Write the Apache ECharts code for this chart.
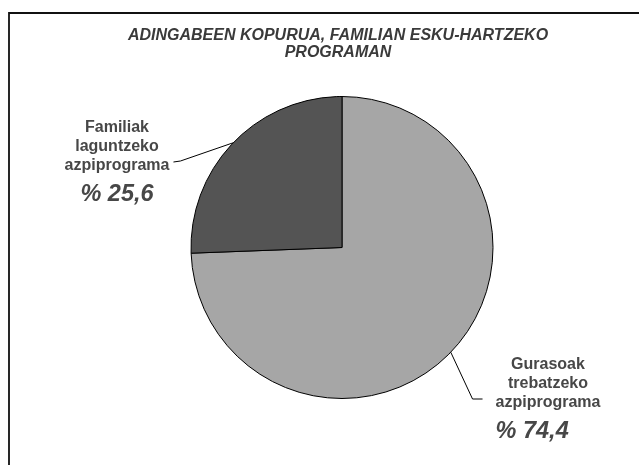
<!DOCTYPE html>
<html>
<head>
<meta charset="utf-8">
<script src="https://cdn.jsdelivr.net/npm/echarts@6/dist/echarts.min.js"></script>
<style>
  html, body { margin: 0; padding: 0; background: #fff; }
  #chart { width: 639px; height: 465px; }
</style>
</head>
<body>
<div id="chart"></div>
<script>
// programme names (label lines) and their share in percent
const categories = [
  'Gurasoak\ntrebatzeko\nazpiprograma',
  'Familiak\nlaguntzeko\nazpiprograma'
]
const percents = [74.4, 25.6]
const sliceColors = ['#a6a6a6', '#545454']
const chartTitle = 'ADINGABEEN KOPURUA, FAMILIAN ESKU-HARTZEKO\nPROGRAMAN'

const chart = echarts.init(document.getElementById('chart'))

// where each label block sits: centre x, top y, and which side the leader comes from
const labelPlace = [
  { x: 548, y: 355, side: 'left', pct: 'pl' },
  { x: 117, y: 118, side: 'right', pct: 'pc' }
]

const font = '"Liberation Sans", Arial, sans-serif'

const option = {
  animation: false,
  title: {
    text: chartTitle,
    left: 338,
    top: 27,
    padding: 0,
    textAlign: 'center',
    textStyle: {
      fontFamily: font,
      fontSize: 16,
      fontWeight: 'bold',
      fontStyle: 'italic',
      lineHeight: 17,
      color: '#3a3a3a'
    }
  },
  graphic: [
    {
      type: 'rect',
      silent: true,
      shape: { x: 9, y: 13, width: 700, height: 500 },
      style: { fill: 'none', stroke: '#111', lineWidth: 1.8 }
    }
  ],
  series: [
    {
      type: 'pie',
      center: [342, 247.5],
      radius: 151,
      startAngle: 90,
      clockwise: true,
      silent: true,
      emphasis: { disabled: true },
      itemStyle: { borderColor: '#000', borderWidth: 1 },
      label: {
        show: true,
        position: 'outside',
        align: 'center',
        formatter(p) {
          const lines = p.name.split('\n').map(s => `{n|${s}}`).join('\n')
          const pct = '% ' + p.value.toFixed(1).replace('.', ',')
          return `${lines}\n{${labelPlace[p.dataIndex].pct}|${pct}}`
        },
        rich: {
          n: {
            fontFamily: font,
            fontSize: 16,
            fontWeight: 'bold',
            lineHeight: 19,
            color: '#474747',
            align: 'center'
          },
          pc: {
            fontFamily: font,
            fontSize: 23.5,
            fontWeight: 'bold',
            fontStyle: 'italic',
            lineHeight: 40,
            color: '#474747',
            align: 'center'
          },
          pl: {
            fontFamily: font,
            fontSize: 23.5,
            fontWeight: 'bold',
            fontStyle: 'italic',
            lineHeight: 40,
            color: '#474747',
            align: 'left'
          }
        }
      },
      labelLine: {
        show: true,
        lineStyle: { color: '#000', width: 1 }
      },
      labelLayout(params) {
        const place = labelPlace[params.dataIndex]
        const w = params.labelRect.width
        const start = params.labelLinePoints ? params.labelLinePoints[0] : [0, 0]
        const lineY = place.y + 44
        let end, elbow
        if (place.side === 'right') {
          end = [place.x + w / 2 + 4, lineY]
          elbow = [end[0] + 7, lineY - 1]
        } else {
          end = [place.x - w / 2 - 13, lineY]
          elbow = [end[0] - 10, lineY]
        }
        return {
          x: place.x,
          y: place.y,
          align: 'center',
          verticalAlign: 'top',
          labelLinePoints: [start, elbow, end]
        }
      },
      data: categories.map((name, i) => ({
        name,
        value: percents[i],
        itemStyle: { color: sliceColors[i] }
      }))
    }
  ]
}

chart.setOption(option)
window.addEventListener('resize', () => chart.resize())
</script>
</body>
</html>
